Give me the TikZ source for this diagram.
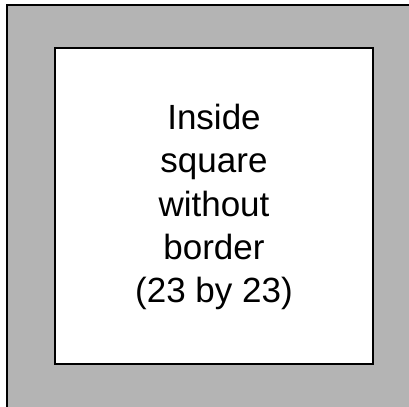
\documentclass[tikz,border=0pt]{standalone}
\usepackage{fontspec}
\setmainfont{Liberation Sans}
\definecolor{panelgray}{RGB}{180,180,180}

\begin{document}
\begin{tikzpicture}[x=0.75pt,y=-0.75pt]
    \useasboundingbox (0,0) rectangle (409,406);
    \clip (0,0) rectangle (409,406);

    % outer panel, runs off the right and bottom edges
    \draw[line width=1.5pt, fill=panelgray] (6.5,5) rectangle (420,420);
    % inside square
    \draw[line width=1.5pt, fill=white] (55,48) rectangle (373,364);

    \node[align=center, font=\fontsize{26.25pt}{32.6pt}\selectfont] (insidelabel) at (214,207)
        {Inside\\square\\without\\border\\(23 by 23)};
\end{tikzpicture}
\end{document}
